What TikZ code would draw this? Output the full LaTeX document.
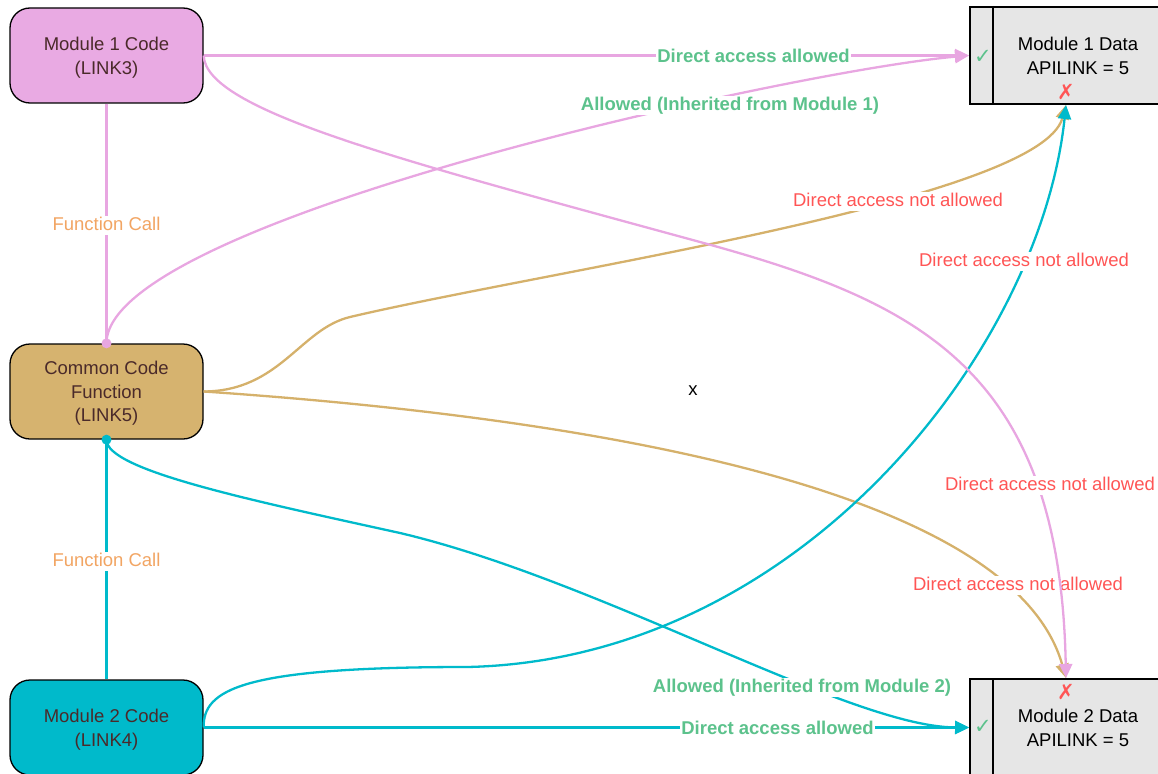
\documentclass[tikz,border=0pt]{standalone}
\usepackage{fontspec}
\setmainfont{Liberation Sans}
\newfontfamily\symfont{DejaVu Sans}
\usetikzlibrary{arrows.meta}
\definecolor{pinkfill}{HTML}{E9AAE3}
\definecolor{pinkline}{HTML}{E8A6E1}
\definecolor{tanfill}{HTML}{D6B36F}
\definecolor{tanline}{HTML}{D5B16B}
\definecolor{cyanfill}{HTML}{00BACB}
\definecolor{cyanline}{HTML}{00BACB}
\definecolor{datagray}{HTML}{E6E6E6}
\definecolor{nodetext}{HTML}{4A2A2A}
\definecolor{okgreen}{HTML}{5CC28C}
\definecolor{nored}{HTML}{FF5555}
\definecolor{fcorange}{HTML}{F2A563}
\newcommand\topfixrule{\rule{0pt}{17.5pt}}
\begin{document}
\begin{tikzpicture}[x=1pt,y=-1pt,
  codebox/.style={draw=black, line width=1.3pt, rounded corners=20pt, minimum width=193pt, minimum height=95pt, align=center, text=nodetext, inner sep=0pt, font=\fontsize{18.5}{23.5}\selectfont},
  databox/.style={draw=black, line width=2pt, fill=datagray, minimum width=192pt, minimum height=97pt, inner sep=0pt},
  datatext/.style={align=center, text=black, inner sep=0pt, font=\fontsize{18.5}{24}\selectfont},
  conn/.style={line width=2.3pt, -{Triangle[length=14pt,width=13pt]}},
  linkline/.style={line width=2.3pt},
  lbl/.style={fill=white, inner xsep=1.5pt, inner ysep=1pt, text height=13.5pt, text depth=3.5pt, yshift=-2.5pt, font=\fontsize{18.5}{22}\selectfont},
  oklbl/.style={lbl, text=okgreen, font=\fontsize{18.5}{22}\selectfont\bfseries},
  nolbl/.style={lbl, text=nored},
  fclbl/.style={lbl, text=fcorange},
  dotmark/.style={circle, inner sep=0pt, minimum size=10pt},
  okmark/.style={text=okgreen, inner sep=0pt, font=\symfont\fontsize{21}{21}\selectfont},
  nomark/.style={text=nored, inner sep=0pt, font=\symfont\fontsize{21}{21}\selectfont}
]
\useasboundingbox (0,0) rectangle (1158,773);

% code nodes
\node[codebox, fill=pinkfill] (m1c) at (106.5,55.5) {\topfixrule Module 1 Code\\(LINK3)};
\node[codebox, fill=tanfill] (cc) at (106.5,391.5) {\topfixrule Common Code\\Function\\(LINK5)};
\node[codebox, fill=cyanfill] (m2c) at (106.5,727.5) {\topfixrule Module 2 Code\\(LINK4)};

% data nodes
\node[databox] (m1d) at (1066,55.5) {};
\draw[line width=2pt] ([xshift=24pt]m1d.north west) -- ([xshift=24pt]m1d.south west);
\node[datatext] (m1dt) at (1078,55.5) {Module 1 Data\\APILINK = 5};
\node[okmark] (m1ok) at (983,57) {✓};
\node[nomark] (m1no) at (1066,92) {✗};

\node[databox] (m2d) at (1066,727.5) {};
\draw[line width=2pt] ([xshift=24pt]m2d.north west) -- ([xshift=24pt]m2d.south west);
\node[datatext] (m2dt) at (1078,727.5) {Module 2 Data\\APILINK = 5};
\node[okmark] (m2ok) at (983,727) {✓};
\node[nomark] (m2no) at (1066,692) {✗};

% helper coordinates on curves
\coordinate (tA) at (350,317);
\coordinate (cA) at (467,667);
\coordinate (cB) at (400,533);
\coordinate (pA) at (700,242);

% tan connectors
\draw[conn, tanline] (cc.east) .. controls (280,391) and (300,329) .. (tA)
  .. controls (550,270) and (1040,200) .. (m1d.south);
\draw[conn, tanline] (cc.east) .. controls (550,415) and (1010,480) .. (m2d.north);
\node[nolbl] (l3) at (898,199) {Direct access not allowed};
\node[nolbl] (l6) at (1018,583) {Direct access not allowed};

% cyan connectors
\draw[linkline, cyanline] (cc.south) -- (m2c.north);
\node[fclbl] (l7) at (106.5,559) {Function Call};
\draw[conn, cyanline] (m2c.east) .. controls (203,690) and (240,667) .. (cA)
  .. controls (800,660) and (1040,350) .. (m1d.south);
\draw[conn, cyanline] (cc.south) .. controls (106,470) and (250,500) .. (cB)
  .. controls (600,580) and (850,727) .. (m2d.west);
\draw[conn, cyanline] (m2c.east) -- (m2d.west);
\node[nolbl] (l4) at (1024,259) {Direct access not allowed};
\node[oklbl] (l8) at (802,685) {Allowed (Inherited from Module 2)};
\node[oklbl] (l9) at (777.5,727) {Direct access allowed};
\node[dotmark, fill=cyanline] (d2) at (cc.south) {};

% pink connectors
\draw[linkline, pinkline] (m1c.south) -- (cc.north);
\node[fclbl] (l2) at (106.5,223) {Function Call};
\draw[conn, pinkline] (m1c.east) -- (m1d.west);
\draw[conn, pinkline] (cc.north) .. controls (106,220) and (800,70) .. (m1d.west);
\draw[conn, pinkline] (m1c.east) .. controls +(2,55) and (400,160) .. (pA)
  .. controls (920,302) and (1060,370) .. (m2d.north);
\node[oklbl] (l1) at (753.5,55) {Direct access allowed};
\node[oklbl] (l1b) at (730,103) {Allowed (Inherited from Module 1)};
\node[nolbl] (l5) at (1050,483) {Direct access not allowed};
\node[dotmark, fill=pinkline] (d1) at (cc.north) {};

\node[inner sep=0pt, font=\fontsize{18.5}{22}\selectfont] (xm) at (693,391) {x};
\end{tikzpicture}
\end{document}
